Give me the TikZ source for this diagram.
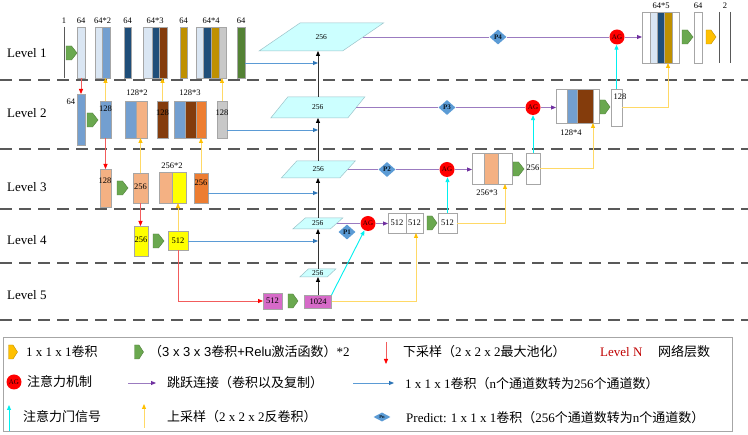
\documentclass[tikz,border=0pt]{standalone}
\usepackage{fontspec}
\setmainfont{Liberation Serif}
\newfontfamily\cjk{Noto Sans CJK SC}
\newfontfamily\arialf{Liberation Sans}
\usetikzlibrary{arrows.meta,shapes.geometric,calc}
\definecolor{lblue}{HTML}{DAE6F3}
\definecolor{mblue}{HTML}{739FD0}
\definecolor{navy}{HTML}{1F4E79}
\definecolor{brownc}{HTML}{843C0C}
\definecolor{goldc}{HTML}{BF9000}
\definecolor{lgray}{HTML}{C8C8C8}
\definecolor{dgreen}{HTML}{548235}
\definecolor{pgreen}{HTML}{6AA84F}
\definecolor{peach}{HTML}{F4B183}
\definecolor{orangec}{HTML}{ED7D31}
\definecolor{yel}{HTML}{FFFF00}
\definecolor{mag}{HTML}{D66AC8}
\definecolor{cyfill}{HTML}{CCFFFF}
\definecolor{cybord}{HTML}{9CC3CA}
\definecolor{diam}{HTML}{5B9BD5}
\definecolor{purl}{HTML}{9B7BC0}
\definecolor{purt}{HTML}{7030A0}
\definecolor{redl}{HTML}{F25C5C}
\definecolor{yell}{HTML}{FFD966}
\definecolor{yelt}{HTML}{FFC000}
\definecolor{bluel}{HTML}{5B9BD5}
\definecolor{bluet}{HTML}{2E75B6}
\definecolor{cyl}{HTML}{00F0F0}
\definecolor{dashc}{HTML}{595959}
\definecolor{bord}{HTML}{A6A6A6}
\definecolor{lvred}{HTML}{C00000}
\tikzset{
 box/.style={draw=bord, line width=0.5pt, inner sep=0pt, outer sep=0pt, anchor=north west},
 num/.style={font=\fontsize{8.5}{9}\selectfont, inner sep=0pt},
 ptext/.style={font=\fontsize{7.5}{8}\selectfont, inner sep=0pt},
 lvl/.style={font=\fontsize{13}{15}\selectfont, anchor=west, inner sep=0pt},
 leg/.style={font=\fontsize{13}{15}\selectfont, anchor=west, inner sep=0pt},
 pentbox/.style={inner sep=0pt, outer sep=0pt, minimum width=11pt, minimum height=14pt},
 ag/.style={circle, fill=red, minimum size=15pt, inner sep=0pt, font=\fontsize{7}{7}\selectfont, text=black!85!red},
 pdia/.style={diamond, fill=diam, minimum width=17pt, minimum height=15pt, inner sep=0pt, font=\fontsize{7}{7}\selectfont\bfseries, text=black!70!navy},
 parafill/.style={fill=cyfill, draw=cybord, line width=0.5pt},
 dashline/.style={draw=dashc, line width=1.1pt, dash pattern=on 12pt off 7pt},
 redarr/.style={draw=redl, line width=0.8pt, -{Triangle[length=5pt,width=4pt,color=red]}},
 yelarr/.style={draw=yell, line width=0.9pt, -{Triangle[length=5pt,width=4pt,color=yelt]}},
 bluearr/.style={draw=bluel, line width=0.9pt, -{Triangle[length=5pt,width=4pt,color=bluet]}},
 cyarr/.style={draw=cyl, line width=0.9pt, -{Triangle[length=5pt,width=4pt,color=cyl]}},
 purline/.style={draw=purl, line width=0.9pt},
 purarr/.style={purline, -{Triangle[length=5pt,width=4pt,color=purt]}},
 blkarr/.style={draw=black!80, line width=0.8pt, -{Triangle[length=5pt,width=4pt,color=black]}},
}
\newcommand{\bx}[6]{\node[box,fill=#6,minimum width={(#4-#2)*1pt},minimum height={(#5-#3)*1pt}] (#1) at (#2,#3) {};}
% pentagon: name, cx, cy, colour, width
\newcommand{\pg}[5]{%
  \node[pentbox, minimum width=#5pt] (#1) at (#2,#3) {};
  \filldraw[fill=#4, draw=#4!75!black, line width=0.4pt, line join=miter]
    (#1.north west) -- ($(#1.north west)!0.5!(#1.north east)$) -- (#1.east)
    -- ($(#1.south west)!0.5!(#1.south east)$) -- (#1.south west) -- cycle;
}
\newcommand{\para}[6]{%
  \filldraw[parafill] ({#2-#4/2+#6/2},{#3-#5/2}) -- ({#2+#4/2+#6/2},{#3-#5/2}) -- ({#2+#4/2-#6/2},{#3+#5/2}) -- ({#2-#4/2-#6/2},{#3+#5/2}) -- cycle;
  \node[ptext] (#1) at (#2,#3) {256};
  \coordinate (#1s) at (318,{#3+#5/2});
  \coordinate (#1n) at (318,{#3-#5/2});
  \coordinate (#1e) at ({#2+#4/2},#3);
}
\begin{document}
\begin{tikzpicture}[x=1pt,y=-1pt]
\fill[white] (0,0) rectangle (748,435);
\useasboundingbox (0,0) rectangle (748,435);
% dashed separators
\foreach \yy in {80,149,209,263,320} {\draw[dashline] (0,\yy) -- (748,\yy);}
% level labels
\node[lvl] (L1) at (7,53) {Level 1};
\node[lvl] (L2) at (7,113) {Level 2};
\node[lvl] (L3) at (7,187) {Level 3};
\node[lvl] (L4) at (7,240) {Level 4};
\node[lvl] (L5) at (7,295) {Level 5};
% parallelograms
\para{pa1}{321.25}{37}{83.5}{28}{41}
\para{pa2}{317.75}{107.5}{77}{21}{17}
\para{pa3}{318.25}{169.5}{58.5}{17}{15.5}
\para{pa4}{317.75}{223.5}{37.5}{11}{12.5}
\para{pa5}{317.75}{273}{27.5}{8}{8.5}
% ---------- Level 1 ----------
\draw[draw=dashc, line width=0.8pt] (64,27) -- (64,78);
\node[num] (t0) at (64,21) {1};
\pg{g1}{71.5}{53}{pgreen}{11}
\bx{b1}{77}{27}{85}{78}{lblue} \node[num] (t1) at (81,21) {64};
\bx{b2a}{95}{27}{102}{78}{lblue}\bx{b2b}{102}{27}{110}{78}{mblue}
\node[num] (t2) at (102.5,21) {64*2};
\bx{b3}{124}{27}{131}{78}{navy} \node[num] (t3) at (127.5,21) {64};
\bx{b4a}{143}{27}{152}{78}{lblue}\bx{b4b}{152}{27}{159}{78}{navy}\bx{b4c}{159}{27}{167}{78}{brownc}
\node[num] (t4) at (155,21) {64*3};
\bx{b5}{180}{27}{187}{78}{goldc} \node[num] (t5) at (183.5,21) {64};
\bx{b6a}{196}{27}{203}{78}{lblue}\bx{b6b}{203}{27}{211}{78}{navy}\bx{b6c}{211}{27}{219}{78}{goldc}\bx{b6d}{219}{27}{226}{78}{lgray}
\node[num] (t6) at (211,21) {64*4};
\bx{b7}{237}{27}{245}{78}{dgreen} \node[num] (t7) at (241,21) {64};
% right of level 1
\bx{b8}{642}{12}{679}{63}{white}
\bx{b8a}{650}{12}{657}{63}{lblue}\bx{b8b}{657}{12}{664}{63}{navy}\bx{b8c}{664}{12}{672}{63}{goldc}
\node[num] (t8) at (661,5.5) {64*5};
\pg{g8}{687.5}{37}{pgreen}{11}
\bx{b9}{694}{12}{702}{63}{white} \node[num] (t9) at (698,5.5) {64};
\pg{y9}{711}{37}{yelt}{10}
\draw[draw=dashc, line width=0.8pt] (719,12) -- (719,63);
\draw[draw=dashc, line width=0.8pt] (730,12) -- (730,63);
\node[num] (t10) at (725,5.5) {2};
\node[pdia] (P4) at (498,37) {P4};
\node[ag] (AG1) at (617,37) {AG};
% ---------- Level 2 ----------
\bx{c1}{77}{94}{85}{145}{mblue} \node[num] (u1) at (71,102) {64};
\pg{g2}{92.5}{120}{pgreen}{11}
\bx{c2}{100}{101}{111}{138}{mblue} \node[num] (u2) at (105.5,109) {128};
\bx{c3a}{125}{101}{136}{138}{mblue}\bx{c3b}{136}{101}{147}{138}{peach}
\node[num] (u3) at (137,93) {128*2};
\bx{c4}{157}{101}{168}{138}{brownc} \node[num] (u4) at (162.5,113) {128};
\bx{c5a}{174}{101}{185}{138}{mblue}\bx{c5b}{185}{101}{196}{138}{brownc}\bx{c5c}{196}{101}{206}{138}{orangec}
\node[num] (u5) at (190,93) {128*3};
\bx{c6}{217}{101}{227}{138}{lgray} \node[num] (u6) at (222,113) {128};
\bx{c7}{556}{89}{599}{123}{white}
\bx{c7a}{567}{89}{577}{123}{mblue}\bx{c7b}{577}{89}{593}{123}{brownc}
\node[num] (u7) at (571,133) {128*4};
\pg{g7}{605}{107}{pgreen}{10}
\bx{c8}{611}{89}{622}{126}{white} \node[num] (u8) at (620,97) {128};
\node[pdia] (P3) at (447,107.5) {P3};
\node[ag] (AG2) at (533,107.5) {AG};
% ---------- Level 3 ----------
\bx{d1}{100}{169}{111}{207}{peach} \node[num] (v1t) at (105,181) {128};
\pg{g3}{122.5}{188}{pgreen}{11}
\bx{d2}{133}{173}{148}{203}{peach} \node[num] (v2t) at (140.5,187) {256};
\bx{d3a}{159}{172}{172}{203}{peach}\bx{d3b}{172}{172}{186}{203}{yel}
\node[num] (v3t) at (172,166) {256*2};
\bx{d4}{194}{173}{208}{203}{orangec} \node[num] (v4t) at (201,183) {256};
\bx{d5}{472}{153}{512}{184}{white}
\bx{d5a}{484}{153}{498}{184}{peach}
\node[num] (v5t) at (487,193) {256*3};
\pg{g5}{518.5}{169}{pgreen}{11}
\bx{d6}{526}{153}{540}{184}{white} \node[num] (v6t) at (533,168) {256};
\node[pdia] (P2) at (387,169.5) {P2};
\node[ag] (AG3) at (447,169.5) {AG};
% ---------- Level 4 ----------
\bx{e1}{134}{226}{148}{256}{yel} \node[num] (w1t) at (141,240) {256};
\pg{g4}{158.5}{241}{pgreen}{11}
\bx{e2}{168}{231}{188}{250}{yel} \node[num] (w2t) at (178,241) {512};
\bx{e3a}{388}{213}{406}{233}{white}\bx{e3b}{406}{213}{423}{233}{white}
\node[num] (w3t) at (397,223) {512};
\node[num] (w4t) at (414.5,223) {512};
\pg{g6}{432}{223}{pgreen}{10}
\bx{e4}{438}{213}{457}{233}{white} \node[num] (w5t) at (447.5,223) {512};
\node[pdia] (P1) at (347,232) {P1};
\node[ag] (AG4) at (368,223.5) {AG};
% ---------- Level 5 ----------
\bx{f1}{263}{293}{282}{309}{mag} \node[num] (x1t) at (272.5,301) {512};
\pg{g9}{293}{301}{pgreen}{10}
\bx{f2}{304.5}{295}{331.5}{308}{mag} \node[num] (x2t) at (318,301.5) {1024};
% ---------- connectors ----------
\draw[blkarr] (f2.north) -- (pa5s);
\draw[blkarr] (pa5n) -- (pa4s);
\draw[blkarr] (pa4n) -- (pa3s);
\draw[blkarr] (pa3n) -- (pa2s);
\draw[blkarr] (pa2n) -- (pa1s);
\coordinate (q1) at (318,63);
\coordinate (q2) at (318,130);
\coordinate (q3) at (318,193);
\coordinate (q4) at (318,241);
\draw[bluearr] (b7.east |- q1) -- (q1);
\draw[bluearr] (c6.east |- q2) -- (q2);
\draw[bluearr] (d4.east |- q3) -- (q3);
\draw[bluearr] (e2.east |- q4) -- (q4);
\draw[redarr] (b1.south) -- (c1.north);
\draw[redarr] (c2.south) -- (c2.south |- d1.north);
\draw[redarr] (d2.south) -- (d2.south |- e1.north);
\draw[redarr] (e2.south) |- (f1.west);
\draw[yelarr] (c2.north) -- (c2.north |- b2b.south);
\draw[yelarr] (c4.north) -- (c4.north |- b4c.south);
\draw[yelarr] (c6.north) -- (c6.north |- b6d.south);
\draw[yelarr] (d2.north) -- (d2.north |- c3b.south);
\draw[yelarr] (d4.north) -- (d4.north |- c5c.south);
\draw[yelarr] (e2.north) -- (e2.north |- d3b.south);
\draw[yelarr] (f2.east) -| ($(e3b.south)+(1.5,0)$);
\draw[yelarr] (e4.east) -| ($(d5.south east)+(-7,0)$);
\draw[yelarr] (d6.east) -| ($(c7.south east)+(-6,0)$);
\draw[yelarr] (c8.east) -| (b8c.south);
\draw[cyarr] (f2.north east) -- (AG4);
\draw[cyarr] (e4.north) -- (e4.north |- AG3.south);
\draw[cyarr] (d6.north) -- (AG2);
\draw[cyarr] (c8.north) -- (c8.north |- AG1.south);
\draw[purline] (pa1e) -- (P4) -- (AG1);
\draw[purarr] (AG1) -- (AG1 -| b8.west);
\draw[purline] (pa2e) -- (P3) -- (AG2);
\draw[purarr] (AG2) -- (AG2 -| c7.west);
\draw[purline] (pa3e) -- (P2) -- (AG3);
\draw[purarr] (AG3) -- (AG3 -| d5.west);
\draw[purline] (pa4e) -- (AG4);
\draw[purarr] (AG4) -- (AG4 -| e3a.west);
% ---------- legend ----------
\draw[draw=bord, line width=0.8pt] (3,337) rectangle (732,431);
\pg{lg1}{13}{352}{yelt}{9}
\node[leg] (lt1) at (26,352) {1 x 1 x 1{\cjk 卷积}};
\pg{lg2}{139}{352}{pgreen}{9}
\node[leg] (lt2) at (149,352) {{\cjk （}{\arialf 3 x 3 x 3}{\cjk 卷积}{\arialf +Relu}{\cjk 激活函数）}*2};
\coordinate (lr1) at (386,342);
\coordinate (lr2) at (386,364);
\draw[redarr] (lr1) -- (lr2);
\node[leg] (lt3) at (403,352) {{\cjk 下采样（}2 x 2 x 2{\cjk 最大池化）}};
\node[leg, text=lvred] (lt4) at (600,352) {Level N};
\node[leg] (lt5) at (658,352) {\cjk 网络层数};
\node[ag] (lag) at (14,382) {AG};
\node[leg] (lt6) at (27,382) {\cjk 注意力机制};
\coordinate (lp1) at (128,383);
\coordinate (lp2) at (156,383);
\draw[purarr] (lp1) -- (lp2);
\node[leg] (lt7) at (167,383) {\cjk 跳跃连接（卷积以及复制）};
\coordinate (lb1) at (353,383);
\coordinate (lb2) at (394,383);
\draw[bluearr] (lb1) -- (lb2);
\node[leg] (lt8) at (405,384) {1 x 1 x 1{\cjk 卷积（}n{\cjk 个通道数转为}256{\cjk 个通道数）}};
\coordinate (lc1) at (9,431);
\coordinate (lc2) at (9,405);
\draw[cyarr] (lc1) -- (lc2);
\node[leg] (lt9) at (23,417) {\cjk 注意力门信号};
\coordinate (ly1) at (144,428);
\coordinate (ly2) at (144,404);
\draw[yelarr] (ly1) -- (ly2);
\node[leg] (lt10) at (167,417) {{\cjk 上采样（}2 x 2 x 2{\cjk 反卷积）}};
\node[pdia, minimum width=17pt, minimum height=9pt, font=\fontsize{4.5}{5}\selectfont\bfseries] (lpn) at (382,417) {Pn};
\node[leg] (lt11) at (406,418) {Predict: 1 x 1 x 1{\cjk 卷积（}256{\cjk 个通道数转为}n{\cjk 个通道数）}};
\end{tikzpicture}
\end{document}
